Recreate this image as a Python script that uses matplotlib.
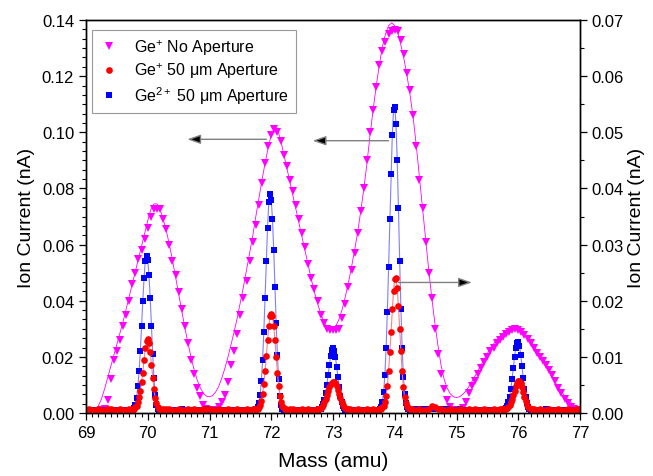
import numpy as np
import matplotlib.pyplot as plt
from matplotlib.ticker import MultipleLocator, AutoMinorLocator

plt.rcParams['font.family'] = ['Liberation Sans', 'DejaVu Sans']
plt.rcParams['mathtext.fontset'] = 'custom'
plt.rcParams['mathtext.rm'] = 'Liberation Sans'
plt.rcParams['mathtext.it'] = 'Liberation Sans:italic'

# ---- Ge+ , no aperture (left axis, nA), scan every 0.05 amu ----
mass_open = [
    69.00, 69.05, 69.10, 69.15, 69.20, 69.25, 69.30, 69.35, 69.40, 69.45,
    69.50, 69.55, 69.60, 69.65, 69.70, 69.75, 69.80, 69.85, 69.90, 69.95,
    70.00, 70.05, 70.10, 70.15, 70.20, 70.25, 70.30, 70.35, 70.40, 70.45,
    70.50, 70.55, 70.60, 70.65, 70.70, 70.75, 70.80, 70.85, 70.90, 70.95,
    71.00, 71.05, 71.10, 71.15, 71.20, 71.25, 71.30, 71.35, 71.40, 71.45,
    71.50, 71.55, 71.60, 71.65, 71.70, 71.75, 71.80, 71.85, 71.90, 71.95,
    72.00, 72.05, 72.10, 72.15, 72.20, 72.25, 72.30, 72.35, 72.40, 72.45,
    72.50, 72.55, 72.60, 72.65, 72.70, 72.75, 72.80, 72.85, 72.90, 72.95,
    73.00, 73.05, 73.10, 73.15, 73.20, 73.25, 73.30, 73.35, 73.40, 73.45,
    73.50, 73.55, 73.60, 73.65, 73.70, 73.75, 73.80, 73.85, 73.90, 73.95,
    74.00, 74.05, 74.10, 74.15, 74.20, 74.25, 74.30, 74.35, 74.40, 74.45,
    74.50, 74.55, 74.60, 74.65, 74.70, 74.75, 74.80, 74.85, 74.90, 74.95,
    75.00, 75.05, 75.10, 75.15, 75.20, 75.25, 75.30, 75.35, 75.40, 75.45,
    75.50, 75.55, 75.60, 75.65, 75.70, 75.75, 75.80, 75.85, 75.90, 75.95,
    76.00, 76.05, 76.10, 76.15, 76.20, 76.25, 76.30, 76.35, 76.40, 76.45,
    76.50, 76.55, 76.60, 76.65, 76.70, 76.75, 76.80, 76.85, 76.90, 76.95,
    77.00]
ion_open = [
    0.0006, 0.0006, 0.0007, 0.0007, 0.0008, 0.0010, 0.0015, 0.0045, 0.0120, 0.0190,
    0.0220, 0.0260, 0.0310, 0.0350, 0.0400, 0.0460, 0.0500, 0.0550, 0.0580, 0.0620,
    0.0660, 0.0700, 0.0725, 0.0728, 0.0725, 0.0690, 0.0655, 0.0600, 0.0540, 0.0490,
    0.0430, 0.0370, 0.0310, 0.0250, 0.0190, 0.0140, 0.0090, 0.0060, 0.0030, 0.0015,
    0.0010, 0.0010, 0.0012, 0.0020, 0.0040, 0.0065, 0.0110, 0.0170, 0.0220, 0.0280,
    0.0350, 0.0410, 0.0470, 0.0540, 0.0610, 0.0670, 0.0740, 0.0820, 0.0890, 0.0950,
    0.0990, 0.1010, 0.1000, 0.0970, 0.0920, 0.0880, 0.0830, 0.0790, 0.0740, 0.0690,
    0.0640, 0.0590, 0.0530, 0.0480, 0.0440, 0.0400, 0.0350, 0.0320, 0.0298, 0.0296,
    0.0296, 0.0297, 0.0300, 0.0340, 0.0390, 0.0450, 0.0510, 0.0570, 0.0640, 0.0720,
    0.0800, 0.0900, 0.1000, 0.1080, 0.1160, 0.1240, 0.1290, 0.1320, 0.1350, 0.1360,
    0.1365, 0.1360, 0.1330, 0.1280, 0.1210, 0.1150, 0.1060, 0.0950, 0.0830, 0.0730,
    0.0610, 0.0500, 0.0410, 0.0300, 0.0210, 0.0140, 0.0085, 0.0045, 0.0020, 0.0010,
    0.0008, 0.0010, 0.0018, 0.0040, 0.0070, 0.0095, 0.0115, 0.0140, 0.0160, 0.0180,
    0.0200, 0.0220, 0.0232, 0.0248, 0.0260, 0.0272, 0.0282, 0.0290, 0.0296, 0.0298,
    0.0296, 0.0288, 0.0278, 0.0265, 0.0248, 0.0232, 0.0215, 0.0200, 0.0185, 0.0170,
    0.0152, 0.0135, 0.0115, 0.0090, 0.0070, 0.0050, 0.0035, 0.0022, 0.0014, 0.0010,
    0.0008]
# multi-peak fit of the no-aperture scan, same mass points
fit_open = [
    0.0000, 0.0002, 0.0005, 0.0012, 0.0025, 0.0050, 0.0085, 0.0125, 0.0165, 0.0205,
    0.0245, 0.0285, 0.0325, 0.0370, 0.0415, 0.0460, 0.0505, 0.0550, 0.0595, 0.0640,
    0.0685, 0.0725, 0.0745, 0.0745, 0.0725, 0.0690, 0.0650, 0.0600, 0.0545, 0.0485,
    0.0425, 0.0365, 0.0305, 0.0250, 0.0200, 0.0155, 0.0118, 0.0090, 0.0070, 0.0060,
    0.0058, 0.0062, 0.0075, 0.0095, 0.0125, 0.0160, 0.0200, 0.0245, 0.0290, 0.0340,
    0.0395, 0.0450, 0.0510, 0.0570, 0.0630, 0.0700, 0.0765, 0.0830, 0.0890, 0.0945,
    0.0990, 0.1015, 0.1010, 0.0975, 0.0925, 0.0875, 0.0825, 0.0775, 0.0725, 0.0675,
    0.0625, 0.0575, 0.0525, 0.0475, 0.0430, 0.0390, 0.0355, 0.0325, 0.0305, 0.0297,
    0.0300, 0.0312, 0.0335, 0.0370, 0.0415, 0.0465, 0.0520, 0.0580, 0.0645, 0.0720,
    0.0800, 0.0890, 0.0990, 0.1080, 0.1165, 0.1240, 0.1305, 0.1350, 0.1380, 0.1390,
    0.1380, 0.1355, 0.1310, 0.1260, 0.1200, 0.1130, 0.1050, 0.0950, 0.0840, 0.0730,
    0.0620, 0.0510, 0.0410, 0.0320, 0.0240, 0.0170, 0.0120, 0.0088, 0.0068, 0.0058,
    0.0055, 0.0058, 0.0066, 0.0078, 0.0094, 0.0112, 0.0132, 0.0152, 0.0172, 0.0192,
    0.0212, 0.0230, 0.0246, 0.0260, 0.0273, 0.0283, 0.0291, 0.0297, 0.0300, 0.0300,
    0.0297, 0.0291, 0.0282, 0.0270, 0.0256, 0.0240, 0.0222, 0.0203, 0.0184, 0.0165,
    0.0146, 0.0127, 0.0109, 0.0092, 0.0076, 0.0062, 0.0049, 0.0038, 0.0029, 0.0021,
    0.0015]

# ---- 50 um aperture scan: fine steps across the peaks ----
mass_ap = [
    69.00, 69.05, 69.10, 69.15, 69.20, 69.25, 69.30, 69.35, 69.40, 69.45,
    69.50, 69.55, 69.60, 69.65, 69.70,
    69.72, 69.74, 69.76, 69.78, 69.80, 69.82, 69.84, 69.86, 69.88, 69.90,
    69.92, 69.94, 69.96, 69.98, 70.00, 70.02, 70.04, 70.06, 70.08, 70.10,
    70.12, 70.14, 70.16, 70.18, 70.20, 70.22, 70.24, 70.26, 70.28, 70.30,
    70.35, 70.40, 70.45, 70.50, 70.55, 70.60, 70.65, 70.70, 70.75, 70.80,
    70.85, 70.90, 70.95, 71.00, 71.05, 71.10, 71.15, 71.20, 71.25, 71.30,
    71.35, 71.40, 71.45, 71.50, 71.55, 71.60, 71.65, 71.70,
    71.72, 71.74, 71.76, 71.78, 71.80, 71.82, 71.84, 71.86, 71.88, 71.90,
    71.92, 71.94, 71.96, 71.98, 72.00, 72.02, 72.04, 72.06, 72.08, 72.10,
    72.12, 72.14, 72.16, 72.18, 72.20, 72.22, 72.24, 72.26, 72.28, 72.30,
    72.35, 72.40, 72.45, 72.50, 72.55, 72.60, 72.65, 72.70,
    72.72, 72.74, 72.76, 72.78, 72.80, 72.82, 72.84, 72.86, 72.88, 72.90,
    72.92, 72.94, 72.96, 72.98, 73.00, 73.02, 73.04, 73.06, 73.08, 73.10,
    73.12, 73.14, 73.16, 73.18, 73.20, 73.22, 73.24, 73.26, 73.28, 73.30,
    73.35, 73.40, 73.45, 73.50, 73.55, 73.60, 73.65, 73.70,
    73.72, 73.74, 73.76, 73.78, 73.80, 73.82, 73.84, 73.86, 73.88, 73.90,
    73.92, 73.94, 73.96, 73.98, 74.00, 74.02, 74.04, 74.06, 74.08, 74.10,
    74.12, 74.14, 74.16, 74.18, 74.20, 74.22, 74.24, 74.26, 74.28, 74.30,
    74.35, 74.40, 74.45, 74.50, 74.55, 74.60, 74.65, 74.70, 74.75, 74.80,
    74.85, 74.90, 74.95, 75.00, 75.05, 75.10, 75.15, 75.20, 75.25, 75.30,
    75.35, 75.40, 75.45, 75.50, 75.55, 75.60, 75.65, 75.70,
    75.72, 75.74, 75.76, 75.78, 75.80, 75.82, 75.84, 75.86, 75.88, 75.90,
    75.92, 75.94, 75.96, 75.98, 76.00, 76.02, 76.04, 76.06, 76.08, 76.10,
    76.12, 76.14, 76.16, 76.18, 76.20, 76.22, 76.24, 76.26, 76.28, 76.30,
    76.35, 76.40, 76.45, 76.50, 76.55, 76.60, 76.65, 76.70, 76.75, 76.80,
    76.85, 76.90, 76.95, 77.00]

# Ge2+ with aperture (left axis, nA)
ion_ge2 = [
    0.0011, 0.0012, 0.0010, 0.0011, 0.0012, 0.0010, 0.0011, 0.0012, 0.0011, 0.0010,
    0.0012, 0.0011, 0.0010, 0.0011, 0.0012,
    0.0010, 0.0010, 0.0012, 0.0018, 0.0030, 0.0055, 0.0095, 0.0150, 0.0220, 0.0310,
    0.0400, 0.0480, 0.0540, 0.0560, 0.0545, 0.0490, 0.0410, 0.0310, 0.0210, 0.0125,
    0.0065, 0.0030, 0.0015, 0.0010, 0.0009, 0.0010, 0.0008, 0.0009, 0.0010, 0.0009,
    0.0011, 0.0012, 0.0010, 0.0011, 0.0013, 0.0011, 0.0010, 0.0012, 0.0011, 0.0012,
    0.0010, 0.0011, 0.0013, 0.0012, 0.0011, 0.0010, 0.0012, 0.0011, 0.0012, 0.0010,
    0.0011, 0.0012, 0.0011, 0.0010, 0.0012, 0.0011, 0.0012, 0.0011,
    0.0010, 0.0010, 0.0013, 0.0020, 0.0035, 0.0065, 0.0115, 0.0190, 0.0290, 0.0410,
    0.0540, 0.0660, 0.0750, 0.0780, 0.0760, 0.0690, 0.0580, 0.0450, 0.0320, 0.0205,
    0.0120, 0.0060, 0.0030, 0.0016, 0.0011, 0.0010, 0.0009, 0.0010, 0.0009, 0.0010,
    0.0011, 0.0010, 0.0012, 0.0011, 0.0010, 0.0012, 0.0011, 0.0010,
    0.0010, 0.0010, 0.0011, 0.0013, 0.0016, 0.0022, 0.0032, 0.0048, 0.0070, 0.0100,
    0.0135, 0.0170, 0.0202, 0.0225, 0.0230, 0.0222, 0.0198, 0.0165, 0.0128, 0.0092,
    0.0062, 0.0040, 0.0025, 0.0017, 0.0012, 0.0010, 0.0010, 0.0009, 0.0010, 0.0009,
    0.0011, 0.0012, 0.0010, 0.0011, 0.0012, 0.0011, 0.0010, 0.0011,
    0.0010, 0.0011, 0.0014, 0.0022, 0.0040, 0.0075, 0.0135, 0.0230, 0.0360, 0.0520,
    0.0690, 0.0850, 0.0990, 0.1080, 0.1090, 0.1030, 0.0900, 0.0730, 0.0540, 0.0370,
    0.0230, 0.0130, 0.0068, 0.0035, 0.0020, 0.0014, 0.0012, 0.0011, 0.0010, 0.0010,
    0.0013, 0.0014, 0.0013, 0.0014, 0.0015, 0.0014, 0.0013, 0.0014, 0.0013, 0.0012,
    0.0013, 0.0012, 0.0011, 0.0012, 0.0013, 0.0011, 0.0012, 0.0011, 0.0012, 0.0010,
    0.0011, 0.0012, 0.0011, 0.0010, 0.0011, 0.0012, 0.0011, 0.0010,
    0.0010, 0.0010, 0.0011, 0.0013, 0.0017, 0.0025, 0.0038, 0.0058, 0.0085, 0.0120,
    0.0160, 0.0200, 0.0232, 0.0250, 0.0252, 0.0238, 0.0208, 0.0168, 0.0125, 0.0087,
    0.0056, 0.0034, 0.0021, 0.0014, 0.0011, 0.0010, 0.0010, 0.0009, 0.0010, 0.0009,
    0.0011, 0.0012, 0.0013, 0.0012, 0.0011, 0.0012, 0.0010, 0.0011, 0.0012, 0.0011,
    0.0010, 0.0011, 0.0012, 0.0011]

# Ge+ with aperture (right axis, nA)
ion_ge1 = [
    0.0006, 0.0007, 0.0006, 0.0006, 0.0007, 0.0006, 0.0006, 0.0007, 0.0008, 0.0006,
    0.0006, 0.0007, 0.0006, 0.0006, 0.0007,
    0.0006, 0.0007, 0.0007, 0.0008, 0.0010, 0.0013, 0.0019, 0.0028, 0.0040, 0.0055,
    0.0072, 0.0095, 0.0115, 0.0128, 0.0132, 0.0125, 0.0108, 0.0086, 0.0063, 0.0043,
    0.0027, 0.0017, 0.0011, 0.0008, 0.0007, 0.0006, 0.0007, 0.0006, 0.0006, 0.0007,
    0.0007, 0.0006, 0.0006, 0.0007, 0.0006, 0.0006, 0.0007, 0.0006, 0.0007, 0.0006,
    0.0006, 0.0007, 0.0008, 0.0007, 0.0006, 0.0006, 0.0007, 0.0006, 0.0006, 0.0007,
    0.0006, 0.0006, 0.0007, 0.0006, 0.0006, 0.0007, 0.0006, 0.0007,
    0.0006, 0.0007, 0.0007, 0.0008, 0.0010, 0.0015, 0.0022, 0.0034, 0.0052, 0.0075,
    0.0102, 0.0130, 0.0155, 0.0172, 0.0177, 0.0172, 0.0155, 0.0130, 0.0100, 0.0072,
    0.0048, 0.0030, 0.0019, 0.0012, 0.0009, 0.0007, 0.0007, 0.0006, 0.0006, 0.0007,
    0.0007, 0.0006, 0.0006, 0.0007, 0.0006, 0.0007, 0.0006, 0.0006,
    0.0006, 0.0007, 0.0007, 0.0008, 0.0009, 0.0011, 0.0014, 0.0019, 0.0025, 0.0032,
    0.0039, 0.0046, 0.0051, 0.0054, 0.0056, 0.0056, 0.0053, 0.0048, 0.0041, 0.0033,
    0.0026, 0.0020, 0.0015, 0.0011, 0.0009, 0.0008, 0.0007, 0.0006, 0.0007, 0.0006,
    0.0006, 0.0007, 0.0006, 0.0006, 0.0007, 0.0006, 0.0007, 0.0006,
    0.0006, 0.0007, 0.0007, 0.0008, 0.0010, 0.0013, 0.0020, 0.0030, 0.0048, 0.0075,
    0.0108, 0.0145, 0.0185, 0.0218, 0.0238, 0.0240, 0.0222, 0.0190, 0.0150, 0.0110,
    0.0074, 0.0046, 0.0028, 0.0017, 0.0012, 0.0009, 0.0008, 0.0007, 0.0007, 0.0006,
    0.0006, 0.0007, 0.0006, 0.0006, 0.0008, 0.0012, 0.0011, 0.0008, 0.0007, 0.0006,
    0.0006, 0.0007, 0.0006, 0.0006, 0.0007, 0.0006, 0.0006, 0.0007, 0.0006, 0.0007,
    0.0006, 0.0006, 0.0007, 0.0006, 0.0006, 0.0007, 0.0006, 0.0007,
    0.0006, 0.0007, 0.0007, 0.0007, 0.0008, 0.0009, 0.0011, 0.0014, 0.0019, 0.0025,
    0.0032, 0.0040, 0.0048, 0.0054, 0.0057, 0.0057, 0.0053, 0.0046, 0.0038, 0.0029,
    0.0021, 0.0015, 0.0011, 0.0009, 0.0008, 0.0007, 0.0006, 0.0007, 0.0006, 0.0006,
    0.0007, 0.0006, 0.0006, 0.0007, 0.0006, 0.0006, 0.0007, 0.0006, 0.0006, 0.0007,
    0.0006, 0.0006, 0.0007, 0.0006]

labels = ['Ge$^{+}$ No Aperture', 'Ge$^{+}$ 50 \u03bcm Aperture', 'Ge$^{2+}$ 50 \u03bcm Aperture']

# arrows (tail, tip) in left-axis units
arrows = [((71.92, 0.0975), (70.64, 0.0975)),
          ((73.90, 0.0970), (72.67, 0.0970)),
          ((74.06, 0.0465), (75.25, 0.0465))]

fig = plt.figure(figsize=(6.53, 4.77), dpi=100)
ax = fig.add_axes([86 / 653, 1 - 414 / 477, 494 / 653, 393 / 477])
ax2 = ax.twinx()

ax.plot(mass_open, fit_open, '-', color='#ff00ff', lw=0.6, zorder=2)
h1, = ax.plot(mass_open, ion_open, 'v', color='#ff00ff', ms=5.2, mew=0, zorder=3)
ax.plot(mass_ap, ion_ge2, '-', color='#7f7fff', lw=0.8, zorder=4)
h3, = ax.plot(mass_ap, ion_ge2, 's', color='#0000ff', ms=4.0, mew=0, zorder=5)
ax2.plot(mass_ap, ion_ge1, '-', color='#ff8080', lw=0.8)
h2, = ax2.plot(mass_ap, ion_ge1, 'o', color='#ff0000', ms=4.8, mew=0)

for tail, tip in arrows:
    ax.annotate('', xy=tip, xytext=tail, zorder=6,
                arrowprops=dict(arrowstyle='-|>,head_length=0.8,head_width=0.28',
                                ec='#808080', fc='black', lw=1.0, shrinkA=0, shrinkB=0))

ax.set_xlim(69, 77)
ax.set_ylim(0, 0.14)
ax2.set_ylim(0, 0.07)

ax.xaxis.set_major_locator(MultipleLocator(1))
ax.xaxis.set_minor_locator(MultipleLocator(0.1))
ax.yaxis.set_major_locator(MultipleLocator(0.02))
ax.yaxis.set_minor_locator(AutoMinorLocator(6))
ax2.yaxis.set_major_locator(MultipleLocator(0.01))
ax2.yaxis.set_minor_locator(MultipleLocator(0.005))
ax.yaxis.set_major_formatter(plt.FormatStrFormatter('%.2f'))
ax2.yaxis.set_major_formatter(plt.FormatStrFormatter('%.2f'))

for a in (ax, ax2):
    a.tick_params(which='major', direction='out', length=5, width=0.9, labelsize=12)
    a.tick_params(which='minor', direction='out', length=3, width=0.8)
    for s in a.spines.values():
        s.set_linewidth(1.0)
ax.tick_params(axis='y', which='both', right=False)
ax.tick_params(axis='x', which='both', top=False)

ax.set_xlabel('Mass (amu)', fontsize=15, labelpad=8)
ax.set_ylabel('Ion Current (nA)', fontsize=14, labelpad=5)
ax2.set_ylabel('Ion Current (nA)', fontsize=14, labelpad=3)

leg = ax2.legend([h1, h2, h3], labels, loc='upper left', bbox_to_anchor=(0.012, 0.975),
                 fontsize=11.5, frameon=True, fancybox=False, edgecolor='#808080',
                 handlelength=1.2, handletextpad=1.0, labelspacing=0.25,
                 borderpad=0.45, borderaxespad=0.0, markerscale=1.0)
leg.get_frame().set_linewidth(0.8)

fig.savefig('out.png', dpi=100)
